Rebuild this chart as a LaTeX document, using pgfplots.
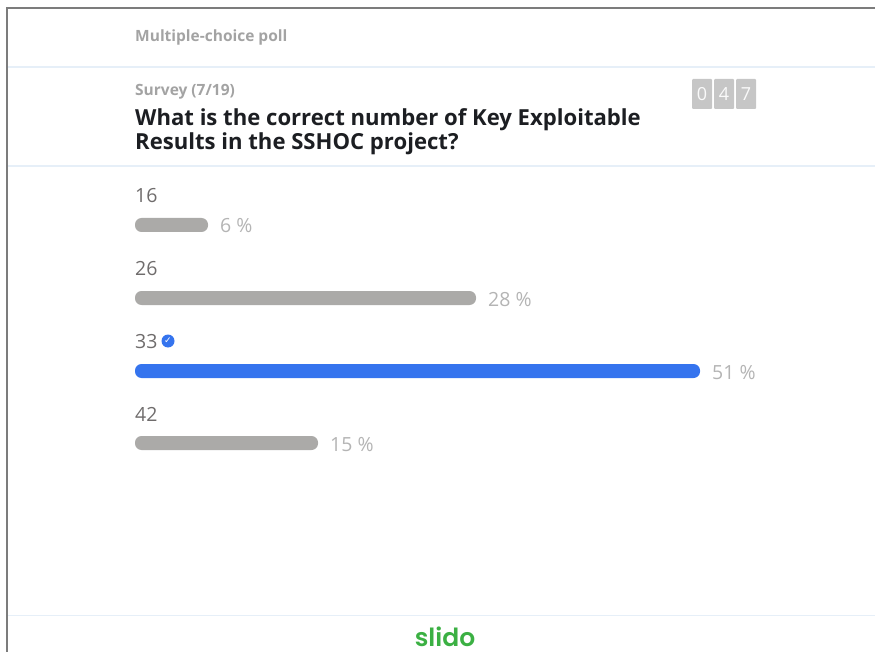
\documentclass[border=0pt]{standalone}
\usepackage{pgfplots}
\pgfplotsset{compat=1.18}
\usepackage{fontspec}
\setmainfont{Open Sans}
\newfontfamily\logofont{Poppins SemiBold}
\newfontfamily\symfont{DejaVu Sans}
\definecolor{barg}{HTML}{ABAAA8}
\definecolor{barb}{HTML}{3574EE}
\definecolor{sep}{HTML}{E6EFF8}
\definecolor{frame}{HTML}{7C7C7C}
\definecolor{cat}{HTML}{6F6C6C}
\definecolor{pct}{HTML}{B4B4B4}
\definecolor{head}{HTML}{A3A3A3}
\definecolor{ink}{HTML}{1C1E22}
\definecolor{box}{HTML}{C6C6C6}
\definecolor{logo}{HTML}{3BB043}
\begin{document}
\begin{tikzpicture}
\clip (0,0) rectangle (875pt,652pt);
\begin{axis}[
  at={(0,0)}, anchor=south west,
  width=875pt, height=652pt, scale only axis,
  hide axis, clip=false,
  xmin=-135, xmax=740,
  ymin=0, ymax=652, y dir=reverse,
  xbar, bar shift=0pt, bar width=14pt,
]
% bar lengths as drawn, in picture pixels
\addplot[draw=none, fill=barg, rounded corners=6.5pt] coordinates {(73,225)};
\addplot[draw=none, fill=barg, rounded corners=6.5pt] coordinates {(341,298)};
\addplot[draw=none, fill=barb, rounded corners=6.5pt] coordinates {(565,371)};
\addplot[draw=none, fill=barg, rounded corners=6.5pt] coordinates {(183,443)};
% frame and separators
\draw[frame, line width=2.2pt] (axis cs:-128,652) -- (axis cs:-128,8) -- (axis cs:740,8);
\draw[sep, line width=1.4pt] (axis cs:-127,67) -- (axis cs:740,67);
\draw[sep, line width=1.4pt] (axis cs:-127,166) -- (axis cs:740,166);
\draw[sep, line width=1.4pt] (axis cs:-127,615.5) -- (axis cs:740,615.5);
% header
\node[anchor=base west, inner sep=0, text=head, font=\fontsize{15.5}{17}\selectfont\bfseries] at (axis cs:0,41.5) {Multiple-choice poll};
\node[anchor=base west, inner sep=0, text=head, font=\fontsize{15.5}{17}\selectfont\bfseries] at (axis cs:0,96) {Survey (7/19)};
\node[anchor=base west, inner sep=0, text=ink, font=\fontsize{22.1}{25}\selectfont\bfseries] at (axis cs:0,125.5) {What is the correct number of Key Exploitable};
\node[anchor=base west, inner sep=0, text=ink, font=\fontsize{22.1}{25}\selectfont\bfseries] at (axis cs:0,150) {Results in the SSHOC project?};
% counter
\foreach \xx/\d in {567/0,589/4,611/7}{
  \edef\temp{\noexpand\node[fill=box, rounded corners=1pt, minimum width=20pt, minimum height=30pt, inner sep=0, text=white!92!box, font=\noexpand\fontsize{18}{20}\noexpand\selectfont] at (axis cs:\xx,94) {\d};}
  \temp
}
% categories
\node[anchor=base west, inner sep=0, text=cat, font=\fontsize{19.5}{21}\selectfont] at (axis cs:0,203) {16};
\node[anchor=base west, inner sep=0, text=cat, font=\fontsize{19.5}{21}\selectfont] at (axis cs:0,276) {26};
\node[anchor=base west, inner sep=0, text=cat, font=\fontsize{19.5}{21}\selectfont] at (axis cs:0,348) {33};
\node[anchor=base west, inner sep=0, text=cat, font=\fontsize{19.5}{21}\selectfont] at (axis cs:0,421) {42};
\node[circle, fill=barb, minimum size=13pt, inner sep=0, text=white, font=\symfont\fontsize{9}{9}\selectfont] at (axis cs:33,341) {✓};
% percentages
\node[anchor=base west, inner sep=0, text=pct, font=\fontsize{19.5}{21}\selectfont] at (axis cs:85,233) {6 \%};
\node[anchor=base west, inner sep=0, text=pct, font=\fontsize{19.5}{21}\selectfont] at (axis cs:353,306) {28 \%};
\node[anchor=base west, inner sep=0, text=pct, font=\fontsize{19.5}{21}\selectfont] at (axis cs:577,379) {51 \%};
\node[anchor=base west, inner sep=0, text=pct, font=\fontsize{19.5}{21}\selectfont] at (axis cs:195,451) {15 \%};
% logo
\node[anchor=base, inner sep=0, text=logo, font=\logofont\fontsize{25}{27}\selectfont] at (axis cs:310,646.5) {slido};
\end{axis}
\end{tikzpicture}
\end{document}
